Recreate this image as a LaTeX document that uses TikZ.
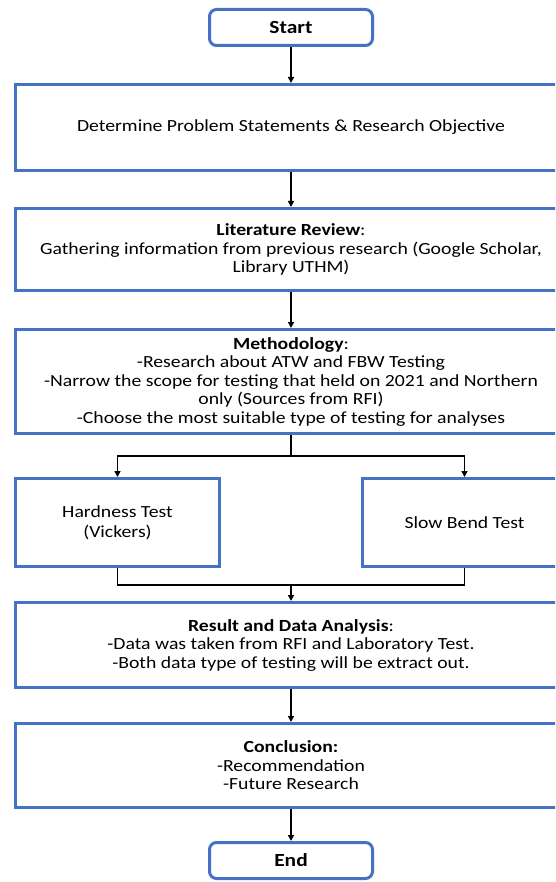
\documentclass[tikz,border=0pt]{standalone}
\usepackage{fontspec}
\setmainfont{Carlito}[FakeStretch=1.16]
\usepackage{xcolor}
\usetikzlibrary{arrows.meta,positioning}
\definecolor{boxblue}{RGB}{68,114,196}
\newcommand{\hd}[1]{{\bfseries #1}}

\begin{document}
\begin{tikzpicture}[
    x=1pt, y=-1pt,
    font=\fontsize{17}{18.5}\selectfont,
    box/.style ={draw=boxblue, line width=3pt, fill=white, align=center,
                 inner sep=0pt},
    term/.style={box, rounded corners=7pt, minimum width=163pt,
                 minimum height=36pt, font=\fontsize{18.5}{20}\selectfont},
    wide/.style={box, minimum width=551pt},
    half/.style={box, minimum width=204pt, minimum height=88pt},
    arr/.style ={-{Triangle[length=6pt,width=6pt]}, line width=1.5pt},
    fl/.style  ={line width=1.5pt},
  ]
  \clip (0,0) rectangle (555,882);
  % main vertical spine
  \node[term] (start) at (291,27.5) {\hd{Start}};
  \node[wide, minimum height=86pt] (prob) at (291,127.5)
       {Determine Problem Statements \& Research Objective};
  \node[wide, minimum height=82pt] (lit) at (291,249.5)
       {\hd{Literature Review}:\\
        Gathering information from previous research (Google Scholar,\\
        Library UTHM)};
  \node[wide, minimum height=104pt] (meth) at (291,381.5)
       {\hd{Methodology}:\\
        -Research about ATW and FBW Testing\\
        -Narrow the scope for testing that held on 2021 and Northern\\
        only (Sources from RFI)\\
        -Choose the most suitable type of testing for analyses};
  % testing branches
  \node[half] (hard) at (117.5,522.5) {Hardness Test\\[1.5pt](Vickers)};
  \node[half] (bend) at (464.5,522.5) {Slow Bend Test};
  \node[wide, minimum height=85pt] (res) at (291,645)
       {\hd{Result and Data Analysis}:\\
        -Data was taken from RFI and Laboratory Test.\\
        -Both data type of testing will be extract out.};
  \node[wide, minimum height=84pt] (conc) at (291,765.5)
       {\hd{Conclusion:}\\
        -Recommendation\\
        -Future Research};
  \node[term] (end) at (291,860.5) {\hd{End}};
  % arrows
  \coordinate (mrg) at (291,585);
  \draw[arr] (start) -- (prob);
  \draw[arr] (prob) -- (lit);
  \draw[arr] (lit) -- (meth);
  \draw[fl]  (meth.south) -- ++(0,21) coordinate (split);
  \draw[arr] (split) -| (hard.north);
  \draw[arr] (split) -| (bend.north);
  \draw[fl]  (hard.south) |- (mrg) -| (bend.south);
  \draw[arr] (mrg) -- (res.north);
  \draw[arr] (res) -- (conc);
  \draw[arr] (conc) -- (end);
\end{tikzpicture}
\end{document}
